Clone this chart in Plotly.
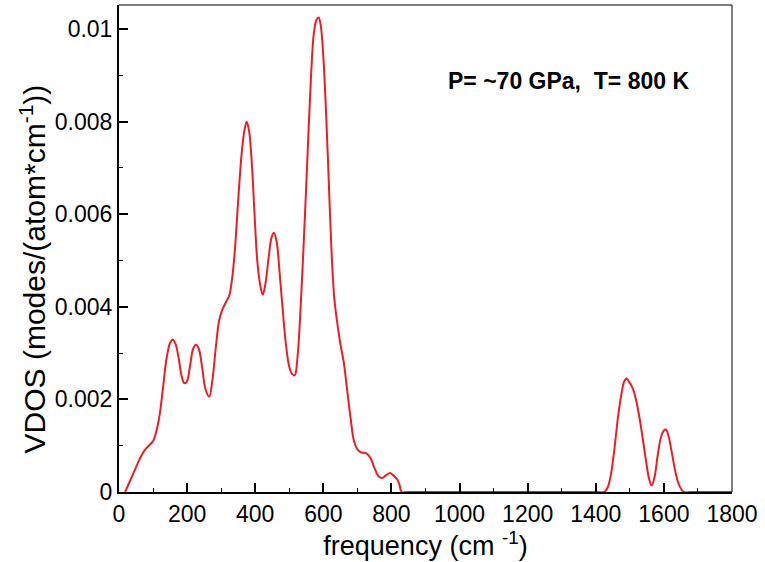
import plotly.graph_objects as go

# frequency (cm^-1) and VDOS values
freq = [18, 30, 45, 60, 75, 90, 100, 110, 120, 130, 140, 150, 158, 166, 175, 184, 192, 200,
        208, 218, 226, 234, 244, 254, 265, 274, 284, 294, 304, 314, 324, 332, 340, 350, 360,
        368, 375, 382, 390, 398, 406, 414, 422, 430, 440, 448, 455, 463, 472, 480, 490, 500,
        508, 516, 524, 532, 540, 548, 556, 564, 572, 580, 586, 592, 600, 608, 616, 624, 632,
        640, 650, 660, 670, 680, 690, 700, 712, 725, 738, 750, 762, 772, 784, 796, 808, 818,
        824, 830, 850, 1000, 1200, 1400, 1425, 1435, 1445, 1455, 1465, 1475, 1483, 1490, 1498,
        1508, 1518, 1528, 1538, 1548, 1556, 1564, 1572, 1582, 1592, 1600, 1606, 1614, 1622,
        1632, 1640, 1648, 1658, 1680, 1800]
vdos = [0.0, 0.00020, 0.00045, 0.00070, 0.00090, 0.00102, 0.00110, 0.00132, 0.00170, 0.00230,
        0.00290, 0.00322, 0.00329, 0.00320, 0.00290, 0.00250, 0.00235, 0.00240,
        0.00270, 0.00310, 0.00318, 0.00310, 0.00270, 0.00222, 0.00206, 0.00240, 0.00310,
        0.00370, 0.00395, 0.00410, 0.00425, 0.00460, 0.00520, 0.00630, 0.00730,
        0.00780, 0.00800, 0.00780, 0.00710, 0.00600, 0.00500, 0.00450, 0.00426, 0.00450,
        0.00510, 0.00550, 0.00560, 0.00540, 0.00470, 0.00400, 0.00320, 0.00270,
        0.00255, 0.00252, 0.00290, 0.00380, 0.00500, 0.00630, 0.00770, 0.00900, 0.00990,
        0.01020, 0.01025, 0.01010, 0.00940, 0.00820, 0.00670, 0.00520, 0.00420,
        0.00370, 0.00320, 0.00280, 0.00220, 0.00160, 0.00110, 0.00092, 0.00085, 0.00084,
        0.00074, 0.00052, 0.00034, 0.00030, 0.00036, 0.00041, 0.00034, 0.00026,
        0.00015, 0.0, 0.0, 0.0, 0.0, 0.0, 0.0, 0.00010, 0.00040, 0.00095, 0.00160, 0.00210,
        0.00238, 0.00245, 0.00238,
        0.00225, 0.00200, 0.00162, 0.00115, 0.00065, 0.00030, 0.00014, 0.00030, 0.00080,
        0.00120, 0.00133, 0.00135, 0.00120, 0.00090,
        0.00050, 0.00025, 0.00010, 0.0, 0.0, 0.0]

x_ticks = [0, 200, 400, 600, 800, 1000, 1200, 1400, 1600, 1800]
x_labels = [str(v) for v in x_ticks]
y_ticks = [0, 0.002, 0.004, 0.006, 0.008, 0.01]
y_labels = ["0", "0.002", "0.004", "0.006", "0.008", "0.01"]

FONT = "Liberation Sans, Arial, Helvetica, sans-serif"

fig = go.Figure()
fig.add_trace(go.Scatter(
    x=freq, y=vdos, mode="lines",
    line=dict(color="#ee1c25", width=2, shape="spline", smoothing=1.0),
    showlegend=False, hoverinfo="skip",
))

fig.update_layout(
    width=765, height=562,
    margin=dict(l=119, r=33, t=5, b=70),
    paper_bgcolor="white", plot_bgcolor="white",
    font=dict(family=FONT, color="black"),
    xaxis=dict(
        range=[0, 1800], tickvals=x_ticks, ticktext=x_labels,
        ticks="inside", ticklen=9, tickwidth=1.5, tickcolor="black",
        minor=dict(ticks="inside", ticklen=4, tickwidth=1.2, tickcolor="black", dtick=100),
        showline=True, linewidth=2, linecolor="black", showgrid=False, zeroline=False,
        tickfont=dict(size=23, family=FONT),
        title=dict(text="frequency (cm <sup>-1</sup>)", font=dict(size=27, family=FONT), standoff=9),
    ),
    yaxis=dict(
        range=[0, 0.01052], tickvals=y_ticks, ticktext=y_labels,
        ticks="inside", ticklen=9, tickwidth=1.5, tickcolor="black",
        minor=dict(ticks="inside", ticklen=4, tickwidth=1.2, tickcolor="black", dtick=0.001),
        showline=True, linewidth=2, linecolor="black", showgrid=False, zeroline=False,
        tickfont=dict(size=23, family=FONT),
    ),
    shapes=[
        dict(type="line", xref="paper", yref="paper", x0=0, x1=1, y0=1, y1=1,
             line=dict(color="black", width=1)),
        dict(type="line", xref="paper", yref="paper", x0=1, x1=1, y0=0, y1=1,
             line=dict(color="black", width=1)),
    ],
    annotations=[
        dict(text="<b>P= ~70 GPa,  T= 800 K</b>", xref="paper", yref="paper",
             x=0.734, y=0.844, xanchor="center", yanchor="middle", showarrow=False,
             font=dict(size=23, family=FONT, color="black")),
        dict(text="VDOS (modes/(atom*cm<sup>-1</sup>))", xref="paper", yref="paper",
             x=0, xshift=-86, y=0.457, xanchor="center", yanchor="middle",
             textangle=-90, showarrow=False,
             font=dict(size=30, family=FONT, color="black")),
    ],
)

fig.write_html("out.html")
